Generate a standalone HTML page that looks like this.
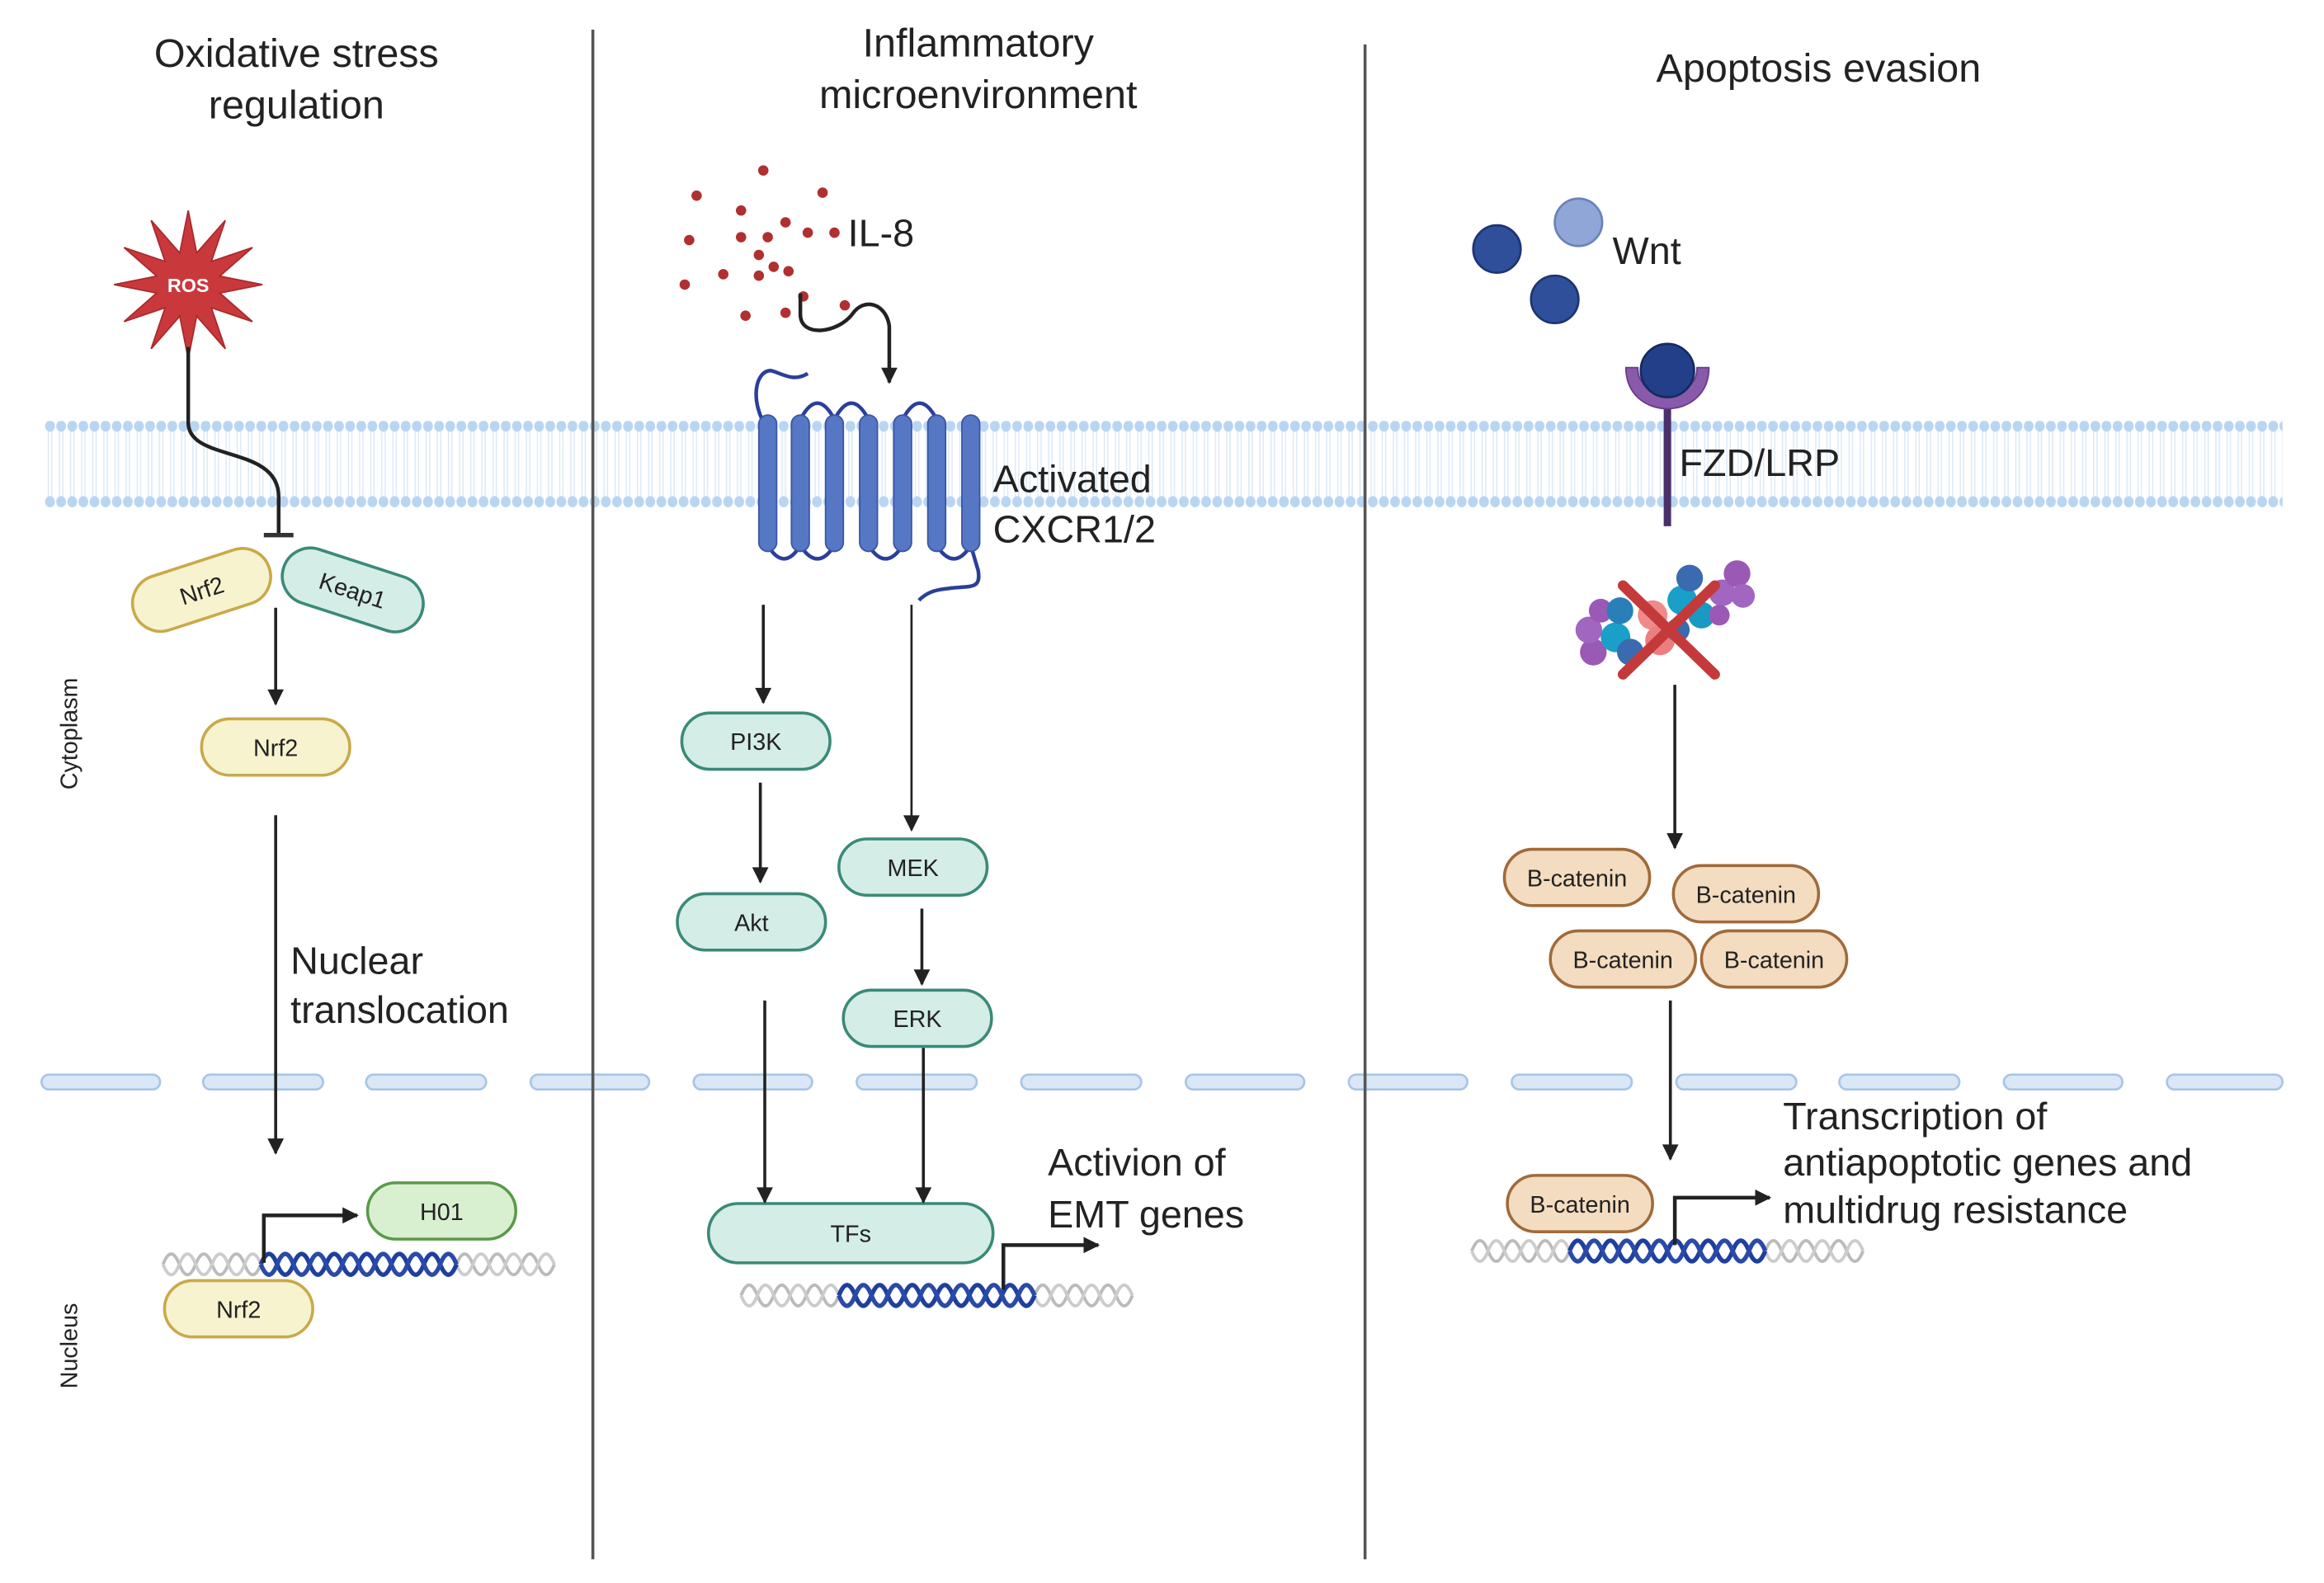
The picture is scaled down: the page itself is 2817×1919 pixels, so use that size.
<!DOCTYPE html>
<html><head><meta charset="utf-8"><style>html,body{margin:0;padding:0;background:#fff}svg{display:block}text{font-family:"Liberation Sans",sans-serif}</style></head><body>
<svg width="2817" height="1919" viewBox="0 0 1568 1068" preserveAspectRatio="none" xmlns="http://www.w3.org/2000/svg">
<defs>
<pattern id="mem" x="30" y="284" width="7.5" height="60" patternUnits="userSpaceOnUse">
<ellipse cx="3.75" cy="3.5" rx="3.3" ry="3.8" fill="#b9d5f2"/>
<ellipse cx="3.75" cy="54.5" rx="3.3" ry="3.8" fill="#b9d5f2"/>
<line x1="2.6" y1="7" x2="2.6" y2="51" stroke="#dbe9f8" stroke-width="0.8"/>
<line x1="4.9" y1="7" x2="4.9" y2="51" stroke="#dbe9f8" stroke-width="0.8"/>
</pattern>
<marker id="ah" viewBox="0 0 10 10" refX="9" refY="5" markerWidth="12" markerHeight="11" orient="auto" markerUnits="userSpaceOnUse"><path d="M0,0 L10,5 L0,10 z" fill="#222"/></marker>
<marker id="ar" viewBox="0 0 10 10" refX="9" refY="5" markerWidth="11" markerHeight="11" orient="auto" markerUnits="userSpaceOnUse"><path d="M0,0 L10,5 L0,10 z" fill="#222"/></marker>
<g id="dna">
<path d="M0,8 q5.5,-14 11,0 t11,0 t11,0 t11,0 t11,0 t11,0 t11,0 t11,0 t11,0 t11,0 t11,0 t11,0 t11,0 t11,0 t11,0 t11,0 t11,0 t11,0 t11,0 t11,0 t11,0 t11,0 t11,0 t11,0" fill="none" stroke="#bbb" stroke-width="2.2"/>
<path d="M0,8 q5.5,14 11,0 t11,0 t11,0 t11,0 t11,0 t11,0 t11,0 t11,0 t11,0 t11,0 t11,0 t11,0 t11,0 t11,0 t11,0 t11,0 t11,0 t11,0 t11,0 t11,0 t11,0 t11,0 t11,0 t11,0" fill="none" stroke="#ccc" stroke-width="2.2"/>
<path d="M66,8 q5.5,-14 11,0 t11,0 t11,0 t11,0 t11,0 t11,0 t11,0 t11,0 t11,0 t11,0 t11,0 t11,0" fill="none" stroke="#1f3f9f" stroke-width="3"/>
<path d="M66,8 q5.5,14 11,0 t11,0 t11,0 t11,0 t11,0 t11,0 t11,0 t11,0 t11,0 t11,0 t11,0 t11,0" fill="none" stroke="#2a4aa8" stroke-width="3"/>
</g>
</defs>
<rect width="1568" height="1068" fill="#fff"/>
<rect x="30" y="284" width="1510" height="60" fill="url(#mem)"/>
<g fill="#d9e7f6" stroke="#a8c5e6" stroke-width="1.5">
<rect x="28" y="725" width="80" height="10" rx="5"/><rect x="137" y="725" width="81" height="10" rx="5"/><rect x="247" y="725" width="81" height="10" rx="5"/><rect x="358" y="725" width="80" height="10" rx="5"/><rect x="468" y="725" width="80" height="10" rx="5"/><rect x="578" y="725" width="81" height="10" rx="5"/><rect x="689" y="725" width="81" height="10" rx="5"/><rect x="800" y="725" width="80" height="10" rx="5"/><rect x="910" y="725" width="80" height="10" rx="5"/><rect x="1020" y="725" width="81" height="10" rx="5"/><rect x="1131" y="725" width="81" height="10" rx="5"/><rect x="1241" y="725" width="81" height="10" rx="5"/><rect x="1352" y="725" width="80" height="10" rx="5"/><rect x="1462" y="725" width="78" height="10" rx="5"/>
</g>
<line x1="400" y1="20" x2="400" y2="1052" stroke="#555" stroke-width="2"/>
<line x1="921" y1="30" x2="921" y2="1052" stroke="#555" stroke-width="2"/>
<g font-size="27" fill="#222" text-anchor="middle">
<text x="200" y="45">Oxidative stress</text><text x="200" y="80">regulation</text>
<text x="660" y="38">Inflammatory</text><text x="660" y="73">microenvironment</text>
<text x="1227" y="55">Apoptosis evasion</text>
</g>
<text x="52" y="495" font-size="16" fill="#222" text-anchor="middle" transform="rotate(-90 52 495)">Cytoplasm</text>
<text x="52" y="908" font-size="16" fill="#222" text-anchor="middle" transform="rotate(-90 52 908)">Nucleus</text>
<polygon points="177,192 148.3,197.7 170.3,217 142.6,207.6 152,235.3 132.7,213.3 127,242 121.3,213.3 102,235.3 111.4,207.6 83.7,217 105.7,197.7 77,192 105.7,186.3 83.7,167 111.4,176.4 102,148.7 121.3,170.7 127,142 132.7,170.7 152,148.7 142.6,176.4 170.3,167 148.3,186.3" fill="#c9393c" stroke="#a82a2e" stroke-width="1"/>
<text x="127" y="197" font-size="13" font-weight="bold" fill="#fff" text-anchor="middle">ROS</text>
<path d="M127,234 L127,285 C127,312 188,300 188,335 L188,360" fill="none" stroke="#222" stroke-width="2.5"/>
<line x1="178" y1="361" x2="198" y2="361" stroke="#333" stroke-width="3"/>
<g font-size="16" fill="#222" text-anchor="middle">
<g transform="translate(136,398) rotate(-18)"><rect x="-48" y="-19" width="96" height="38" rx="19" fill="#f7f3cf" stroke="#c9a94a" stroke-width="2"/><text y="6">Nrf2</text></g>
<g transform="translate(238,398) rotate(18)"><rect x="-49" y="-19" width="98" height="38" rx="19" fill="#d4ede6" stroke="#3a8a78" stroke-width="2"/><text y="6">Keap1</text></g>
<rect x="136" y="485" width="100" height="38" rx="19" fill="#f7f3cf" stroke="#c9a94a" stroke-width="2"/><text x="186" y="510">Nrf2</text>
<rect x="248" y="798" width="100" height="38" rx="19" fill="#d9f0d0" stroke="#5a9a4a" stroke-width="2"/><text x="298" y="823">H01</text>
<use href="#dna" x="110" y="845"/>
<rect x="111" y="864" width="100" height="38" rx="19" fill="#f7f3cf" stroke="#c9a94a" stroke-width="2"/><text x="161" y="889">Nrf2</text>
</g>
<line x1="186" y1="410" x2="186" y2="475" stroke="#222" stroke-width="2" marker-end="url(#ah)"/>
<line x1="186" y1="550" x2="186" y2="778" stroke="#222" stroke-width="2" marker-end="url(#ah)"/>
<path d="M178,852 L178,820 L241,820" fill="none" stroke="#222" stroke-width="2.5" marker-end="url(#ar)"/>
<text x="196" y="657" font-size="26" fill="#222">Nuclear</text><text x="196" y="690" font-size="26" fill="#222">translocation</text>
<g fill="#b03030">
<circle cx="515" cy="115" r="3.5"/><circle cx="470" cy="132" r="3.5"/><circle cx="555" cy="130" r="3.5"/><circle cx="500" cy="142" r="3.5"/><circle cx="530" cy="150" r="3.5"/><circle cx="465" cy="162" r="3.5"/><circle cx="500" cy="160" r="3.5"/><circle cx="518" cy="160" r="3.5"/><circle cx="545" cy="157" r="3.5"/><circle cx="563" cy="157" r="3.5"/><circle cx="512" cy="172" r="3.5"/><circle cx="522" cy="180" r="3.5"/><circle cx="488" cy="185" r="3.5"/><circle cx="512" cy="186" r="3.5"/><circle cx="532" cy="183" r="3.5"/><circle cx="462" cy="192" r="3.5"/><circle cx="503" cy="213" r="3.5"/><circle cx="530" cy="211" r="3.5"/><circle cx="570" cy="206" r="3.5"/><circle cx="542" cy="200" r="3.5"/>
</g>
<text x="572" y="166" font-size="26" fill="#222">IL-8</text>
<path d="M540,198 L540,212 C540,228 565,225 575,212 C583,200 598,205 600,220 L600,258" fill="none" stroke="#222" stroke-width="2.5" marker-end="url(#ah)"/>
<g fill="none" stroke="#2a3f9a" stroke-width="2.5">
<path d="M518,290 C505,270 510,250 520,250 C528,252 535,258 545,252"/>
<path d="M540,368 q11.5,18 23,0"/><path d="M586,368 q11.5,18 23,0"/><path d="M632,368 q11.5,18 23,0"/><path d="M518,368 q11,18 22,0"/>
<path d="M563,283 q11.5,-22 23,0"/><path d="M609,283 q11.5,-22 23,0"/><path d="M540,283 q11.5,-22 23,0"/>
<path d="M655,368 L660,385 C662,398 655,395 640,397 C630,398 625,400 620,405"/>
</g>
<g fill="#5577c4" stroke="#3a55a8" stroke-width="1">
<rect x="512" y="280" width="12" height="92" rx="6"/><rect x="534" y="280" width="12" height="92" rx="6"/><rect x="557" y="280" width="12" height="92" rx="6"/><rect x="580" y="280" width="12" height="92" rx="6"/><rect x="603" y="280" width="12" height="92" rx="6"/><rect x="626" y="280" width="12" height="92" rx="6"/><rect x="649" y="280" width="12" height="92" rx="6"/>
</g>
<text x="670" y="332" font-size="26" fill="#222">Activated</text><text x="670" y="366" font-size="26" fill="#222">CXCR1/2</text>
<g font-size="16" fill="#222" text-anchor="middle">
<rect x="460" y="481" width="100" height="38" rx="19" fill="#d4ede6" stroke="#3a8a78" stroke-width="2"/><text x="510" y="506">PI3K</text>
<rect x="457" y="603" width="100" height="38" rx="19" fill="#d4ede6" stroke="#3a8a78" stroke-width="2"/><text x="507" y="628">Akt</text>
<rect x="566" y="566" width="100" height="38" rx="19" fill="#d4ede6" stroke="#3a8a78" stroke-width="2"/><text x="616" y="591">MEK</text>
<rect x="569" y="668" width="100" height="38" rx="19" fill="#d4ede6" stroke="#3a8a78" stroke-width="2"/><text x="619" y="693">ERK</text>
<rect x="478" y="812" width="192" height="40" rx="20" fill="#d4ede6" stroke="#3a8a78" stroke-width="2"/><text x="574" y="838">TFs</text>
</g>
<use href="#dna" x="500" y="866"/>
<g stroke="#222" stroke-width="2" fill="none">
<line x1="515" y1="408" x2="515" y2="474" marker-end="url(#ah)"/>
<line x1="513" y1="528" x2="513" y2="595" marker-end="url(#ah)"/>
<line x1="615" y1="408" x2="615" y2="560" stroke-width="1.5" marker-end="url(#ah)"/>
<line x1="622" y1="613" x2="622" y2="664" marker-end="url(#ah)"/>
<line x1="516" y1="675" x2="516" y2="811" marker-end="url(#ah)"/>
<line x1="623" y1="707" x2="623" y2="811" marker-end="url(#ah)"/>
<path d="M677,870 L677,840 L741,840" stroke-width="2.5" marker-end="url(#ar)"/>
</g>
<text x="707" y="793" font-size="26" fill="#222">Activion of</text><text x="707" y="828" font-size="26" fill="#222">EMT genes</text>
<circle cx="1010" cy="168" r="16" fill="#2f4f9a" stroke="#1e3570" stroke-width="1.5"/>
<circle cx="1065" cy="150" r="16" fill="#8fa6d6" stroke="#6a82b8" stroke-width="1.5"/>
<circle cx="1049" cy="202" r="16" fill="#2f4f9a" stroke="#1e3570" stroke-width="1.5"/>
<text x="1088" y="178" font-size="26" fill="#222">Wnt</text>
<line x1="1125" y1="265" x2="1125" y2="355" stroke="#4a2f6a" stroke-width="5"/>
<path d="M1097,248 C1097,285 1153,285 1153,248 L1145,248 C1145,272 1105,272 1105,248 z" fill="#8a5aaa" stroke="#6a3a8a" stroke-width="1"/>
<circle cx="1125" cy="250" r="18" fill="#233f8a" stroke="#152a60" stroke-width="1.5"/>
<text x="1133" y="321" font-size="26" fill="#222">FZD/LRP</text>
<g>
<circle cx="1075" cy="440" r="9" fill="#9b59b6"/><circle cx="1072" cy="425" r="9" fill="#a066c0"/><circle cx="1080" cy="412" r="8" fill="#9b59b6"/>
<circle cx="1090" cy="430" r="10" fill="#1aa0c8"/><circle cx="1093" cy="412" r="9" fill="#2a7fb8"/><circle cx="1100" cy="440" r="9" fill="#3a6ab0"/>
<circle cx="1115" cy="415" r="10" fill="#f08a8a"/><circle cx="1120" cy="432" r="10" fill="#ec7e80"/>
<circle cx="1135" cy="405" r="10" fill="#1aa0c8"/><circle cx="1140" cy="390" r="9" fill="#3a6ab0"/><circle cx="1148" cy="415" r="9" fill="#1a9ac0"/><circle cx="1132" cy="425" r="8" fill="#3a6ab0"/>
<circle cx="1162" cy="400" r="9" fill="#a066c0"/><circle cx="1172" cy="387" r="9" fill="#9b59b6"/><circle cx="1176" cy="402" r="8" fill="#a066c0"/><circle cx="1160" cy="415" r="7" fill="#9b59b6"/>
<line x1="1095" y1="395" x2="1157" y2="455" stroke="#c43a3a" stroke-width="7" stroke-linecap="round"/>
<line x1="1157" y1="395" x2="1095" y2="455" stroke="#c43a3a" stroke-width="7" stroke-linecap="round"/>
</g>
<line x1="1130" y1="462" x2="1130" y2="572" stroke="#222" stroke-width="2" marker-end="url(#ah)"/>
<g font-size="16" fill="#222" text-anchor="middle">
<rect x="1015" y="573" width="98" height="38" rx="19" fill="#f3dcc0" stroke="#a06a3a" stroke-width="2"/><text x="1064" y="598">B-catenin</text>
<rect x="1129" y="584" width="98" height="38" rx="19" fill="#f3dcc0" stroke="#a06a3a" stroke-width="2"/><text x="1178" y="609">B-catenin</text>
<rect x="1046" y="628" width="98" height="38" rx="19" fill="#f3dcc0" stroke="#a06a3a" stroke-width="2"/><text x="1095" y="653">B-catenin</text>
<rect x="1148" y="628" width="98" height="38" rx="19" fill="#f3dcc0" stroke="#a06a3a" stroke-width="2"/><text x="1197" y="653">B-catenin</text>
<rect x="1017" y="793" width="98" height="38" rx="19" fill="#f3dcc0" stroke="#a06a3a" stroke-width="2"/><text x="1066" y="818">B-catenin</text>
</g>
<line x1="1127" y1="675" x2="1127" y2="782" stroke="#222" stroke-width="2" marker-end="url(#ah)"/>
<use href="#dna" x="993" y="836"/>
<path d="M1130,840 L1130,808 L1194,808" fill="none" stroke="#222" stroke-width="2.5" marker-end="url(#ar)"/>
<g font-size="26" fill="#222"><text x="1203" y="762">Transcription of</text><text x="1203" y="793">antiapoptotic genes and</text><text x="1203" y="825">multidrug resistance</text></g>
</svg>
</body></html>
